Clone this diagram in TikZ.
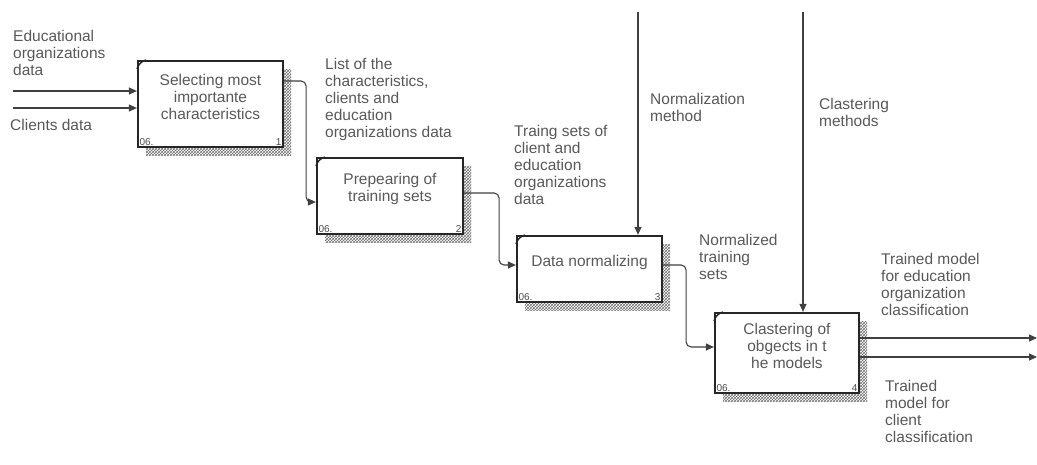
\documentclass[tikz,border=0pt]{standalone}
\usepackage{fontspec}
\setmainfont{Liberation Sans}
\usetikzlibrary{arrows.meta,patterns,shadows}

\begin{document}
\begin{tikzpicture}[x=1pt,y=-1pt,
  fn/.style={draw=black!85,line width=2.2pt,fill=white,inner sep=0pt,
    general shadow={shadow xshift=8pt,shadow yshift=-8pt,draw=none,pattern=crosshatch,pattern color=black!55}},
  boxtext/.style={font=\fontsize{15.5}{17}\selectfont,text=black!65,align=center,inner sep=0pt},
  txt/.style={font=\fontsize{15.5}{17}\selectfont,text=black!65,align=left,anchor=north west,inner sep=0pt},
  num/.style={font=\fontsize{10}{11}\selectfont,text=black!70,inner sep=2.5pt},
  flow/.style={draw=black!75,line width=1.1pt,rounded corners=5pt,-{Triangle[length=8pt,width=7pt]}}]
\useasboundingbox[fill=white] (0,0) rectangle (1037,464);

% activity boxes
\node[fn,minimum width=145pt,minimum height=86pt] (b1) at (210.5,104) {};
\node[fn,minimum width=146pt,minimum height=76pt] (b2) at (390,196) {};
\node[fn,minimum width=145pt,minimum height=66pt] (b3) at (589.5,269) {};
\node[fn,minimum width=144pt,minimum height=80pt] (b4) at (787,353) {};
\node[boxtext] (t1) at ([yshift=7pt]b1.center) {Selecting most\\importante\\characteristics};
\node[boxtext] (t2) at ([yshift=7pt]b2.center) {Prepearing of\\training sets};
\node[boxtext] (t3) at ([yshift=7pt]b3.center) {Data normalizing};
\node[boxtext] (t4) at ([yshift=7pt]b4.center) {Clastering of\\obgects in t\\he models};
\foreach \b/\n in {b1/1,b2/2,b3/3,b4/4} {
  \node[num,anchor=south west] (\b-org) at (\b.south west) {06.};
  \node[num,anchor=south east] (\b-num) at (\b.south east) {\n};
  \draw[black!85,line width=1.4pt] ([yshift=-9pt]\b.north west) to[bend left=25] ([xshift=9pt]\b.north west);
}

% free ends
\coordinate (in1) at (13,91);
\coordinate (in2) at (13,108);
\coordinate (c3) at (638,12);
\coordinate (c4) at (803,12);
\coordinate (out1) at (1037,338);
\coordinate (out2) at (1037,357);

% arrows
\draw[flow] (in1) -- (in1 -| b1.west);
\draw[flow] (in2) -- (in2 -| b1.west);
\draw[flow] ([yshift=23pt]b1.east) -- ++(22pt,0pt) |- ([yshift=-6pt]b2.west);
\draw[flow] ([yshift=3pt]b2.east) -- ++(35pt,0pt) |- ([yshift=4pt]b3.west);
\draw[flow] ([yshift=4pt]b3.east) -- ++(23pt,0pt) |- ([yshift=6pt]b4.west);
\draw[flow] (c3) -- (c3 |- b3.north);
\draw[flow] (c4) -- (c4 |- b4.north);
\draw[flow] (out1 -| b4.east) -- (out1);
\draw[flow] (out2 -| b4.east) -- (out2);

% labels
\node[txt] (l-edu) at (13,30) {Educational\\organizations\\data};
\node[txt] (l-cli) at (10,119) {Clients data};
\node[txt] (l-list) at (325,58) {List of the\\characteristics,\\clients and\\education\\organizations data};
\node[txt] (l-trs) at (514,125) {Traing sets of\\client and\\education\\organizations\\data};
\node[txt] (l-nm) at (650,93) {Normalization\\method};
\node[txt] (l-cm) at (819,98) {Clastering\\methods};
\node[txt] (l-nts) at (699,234) {Normalized\\training\\sets};
\node[txt] (l-tm1) at (881,253) {Trained model\\for education\\organization\\classification};
\node[txt] (l-tm2) at (885,380) {Trained\\model for\\client\\classification};
\end{tikzpicture}
\end{document}
